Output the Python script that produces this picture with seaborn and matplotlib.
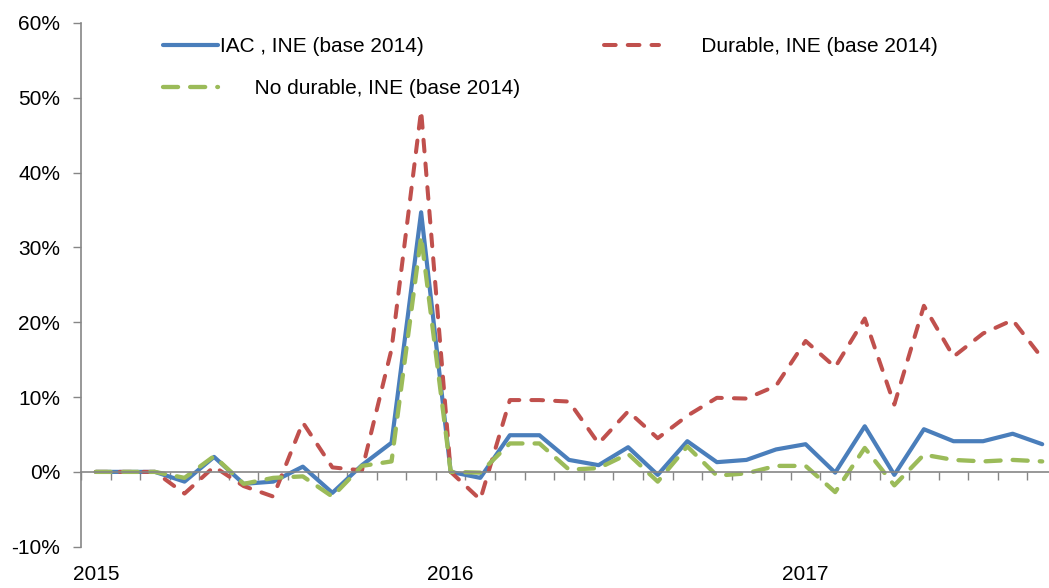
import pandas as pd
import matplotlib
matplotlib.use('Agg')
import matplotlib.pyplot as plt
from matplotlib.ticker import PercentFormatter, FixedLocator
from matplotlib.lines import Line2D
import seaborn as sns

# Variación mensual (%), ene-2015 a sep-2017
iac = [0, 0, 0, -1.3, 2.0, -1.6, -1.3, 0.7, -2.8, 0.9, 3.9, 34.7,
       0.0, -0.8, 4.9, 4.9, 1.6, 0.9, 3.3, -0.4, 4.1, 1.3, 1.6, 3.0,
       3.7, -0.1, 6.1, -0.4, 5.7, 4.1, 4.1, 5.1, 3.7]
durable = [0, 0, 0, -2.9, 0.7, -1.9, -3.3, 6.6, 0.6, 0.2, 16.4, 48.3,
           0.0, -3.7, 9.6, 9.6, 9.4, 3.8, 8.1, 4.5, 7.5, 9.9, 9.8, 11.5,
           17.5, 14.0, 20.5, 9.0, 22.2, 15.4, 18.5, 20.3, 15.2]
no_durable = [0, 0, 0, -0.8, 2.1, -1.6, -0.8, -0.6, -3.3, 0.8, 1.4, 31.5,
              0.0, -0.1, 3.8, 3.8, 0.3, 0.5, 2.4, -1.3, 3.4, -0.5, -0.2, 0.8,
              0.8, -2.7, 3.2, -1.8, 2.3, 1.6, 1.4, 1.6, 1.4]
years = ['2015', '2016', '2017']

labels = ['IAC , INE (base 2014)',
          '       Durable, INE (base 2014)',
          '      No durable, INE (base 2014)']

df = pd.DataFrame({'mes': range(len(iac)), 'iac': iac,
                   'durable': durable, 'no_durable': no_durable})

sns.set_style('white')
plt.rcParams['font.family'] = ['Liberation Sans', 'DejaVu Sans']
plt.rcParams['axes.unicode_minus'] = False
plt.rcParams['text.color'] = 'black'
plt.rcParams['xtick.color'] = 'black'
plt.rcParams['ytick.color'] = 'black'

gris = '#868686'
azul, rojo, verde = '#4A7EBB', '#C0504D', '#9BBB59'

fig = plt.figure(figsize=(10.49, 5.88), dpi=100)
ax = fig.add_axes([81/1049, 1 - 546.7/588, (1057 - 81)/1049, (546.7 - 23)/588])

sns.lineplot(data=df, x='mes', y='iac', ax=ax, color=azul, linewidth=3.0)
sns.lineplot(data=df, x='mes', y='durable', ax=ax, color=rojo, linewidth=2.9,
             linestyle=(0, (2.9, 3.0)), dash_capstyle='round')
sns.lineplot(data=df, x='mes', y='no_durable', ax=ax, color=verde, linewidth=3.1,
             linestyle=(0, (3.5, 2.8)), dash_capstyle='round')

ax.set_xlim(-0.5, len(iac) - 0.5)
ax.set_ylim(-10, 60)
ax.set_xlabel('')
ax.set_ylabel('')

ax.yaxis.set_major_formatter(PercentFormatter(xmax=100, decimals=0))
ax.set_yticks(range(-10, 61, 10))
ax.tick_params(axis='y', direction='out', length=6, width=1, color=gris,
               labelsize=15, labelcolor='black', pad=9, left=True)

# eje horizontal en 0 con marcas entre categorías
ax.spines['bottom'].set_position(('data', 0))
ax.xaxis.set_major_locator(FixedLocator([k - 0.5 for k in range(len(iac) + 1)]))
ax.tick_params(axis='x', direction='out', length=6, width=1, color=gris,
               labelbottom=False, bottom=True)

for s in ['top', 'right']:
    ax.spines[s].set_visible(False)
for s in ['left', 'bottom']:
    ax.spines[s].set_color(gris)
    ax.spines[s].set_linewidth(1.2)

# etiquetas de año en la parte inferior
sec = ax.secondary_xaxis(0)
sec.set_xticks([0, 12, 24], labels=years)
sec.tick_params(length=0, labelsize=15, labelcolor='black', pad=13.5)
sec.spines['bottom'].set_visible(False)

handles = [Line2D([], [], color=azul, linewidth=3.0),
           Line2D([], [], color=verde, linewidth=3.1, linestyle=(0, (3.5, 2.8)),
                  dash_capstyle='round'),
           Line2D([], [], color=rojo, linewidth=2.9, linestyle=(0, (2.9, 3.0)),
                  dash_capstyle='round')]
fig.legend(handles, [labels[0], labels[2], labels[1]], ncol=2,
           loc='upper left', bbox_to_anchor=(163/1049, 1 - 37/588),
           frameon=False, fontsize=15, handlelength=2.65, handletextpad=0.1,
           columnspacing=4.0, labelspacing=1.1, borderpad=0, borderaxespad=0)

fig.savefig('out.png', dpi=100)
